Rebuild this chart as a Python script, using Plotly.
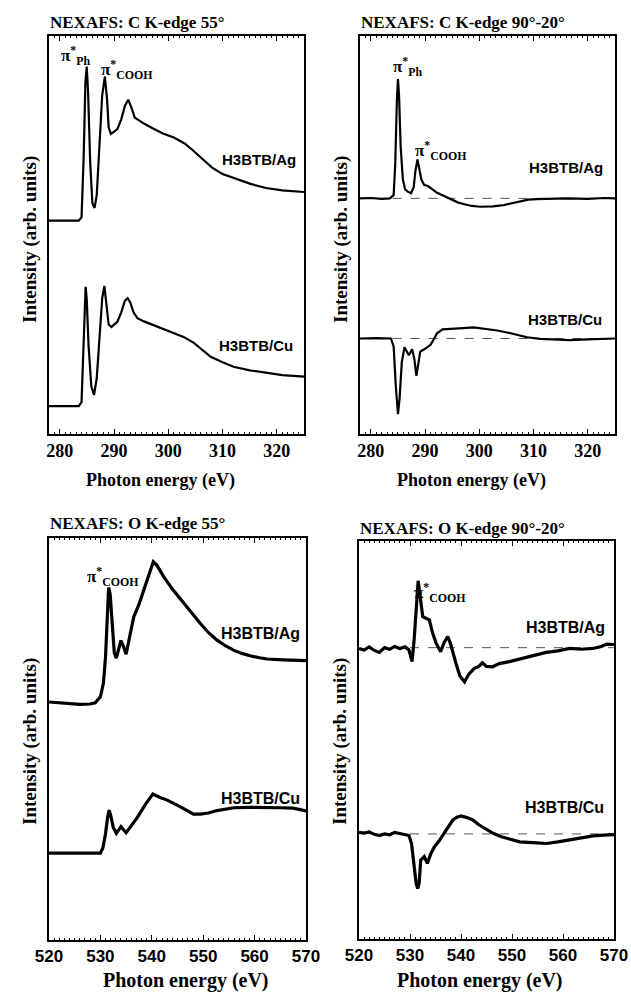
import plotly.graph_objects as go

W, H = 631, 992

# ---------------- data (arbitrary units, 0-100 per panel) ----------------
# C K-edge 55 deg
c55_ag_x = [278, 283.5, 284.0, 284.4, 284.7, 284.95, 285.2, 285.6, 286.0, 286.4, 286.8, 287.3, 287.8, 288.3,
            288.7, 289.0, 289.4, 290.0, 290.6, 291.3, 292.0, 292.6, 293.2, 293.8, 294.5, 295.5, 297, 299, 301,
            303, 304.5, 306, 308, 310, 312, 315, 318, 321, 325]
c55_ag_y = [53.6, 53.6, 54.5, 70, 88, 92.3, 86, 68, 58, 56.8, 60, 72, 85, 89.8,
            84, 77, 75.4, 76, 76.6, 79, 82.5, 84, 82, 79.5, 78.8, 78, 76.9, 75.5, 74.5,
            73, 71.3, 69.5, 67, 65.3, 64.3, 62.9, 61.8, 61.2, 60.8]
c55_cu_x = [278, 283.5, 284.0, 284.3, 284.6, 284.75, 284.95, 285.3, 285.8, 286.3, 286.8, 287.3, 287.8, 288.2,
            288.6, 289.0, 289.5, 290.1, 290.6, 291.3, 292.0, 292.5, 293.0, 293.6, 294.3, 295.5, 297.9, 300,
            302.8, 304.7, 306.3, 307.8, 310, 312, 315, 318.2, 321, 325]
c55_cu_y = [7, 7, 8, 20, 34, 37, 34, 22, 12, 9.8, 14, 25, 34, 37.2,
            32, 27.5, 26.9, 27.5, 28.2, 30.5, 33.5, 34.1, 33, 30.5, 29.1, 28.3, 27, 26,
            24.4, 22.9, 21, 19.4, 18, 16.9, 16, 15.3, 14.8, 14.4]

# C K-edge 90-20 deg (difference)
c90_ag_x = [278, 280, 282, 283.5, 284.2, 284.5, 284.8, 285.0, 285.2, 285.5, 285.9, 286.3, 286.8, 287.4,
            287.9, 288.2, 288.6, 288.9, 289.3, 289.8, 290.5, 291.3, 292.2, 293.5, 294.7, 296, 297.1, 298.6,
            300.2, 302.5, 304.5, 306, 307.5, 309, 310.6, 313, 316, 320, 323, 325]
c90_ag_y = [59.2, 59.3, 59.1, 59.2, 60, 68, 84, 89.2, 85, 72, 64, 61.5, 60.9, 60.5,
            62, 66, 69, 67, 64, 62.6, 62.3, 61.5, 60.6, 59.8, 59.0, 58.2, 57.8, 57.3,
            57.1, 57.2, 57.5, 58.0, 58.5, 58.9, 59.0, 59.1, 59.2, 59.1, 59.3, 59.2]
c90_cu_x = [278, 281, 283.7, 284.2, 284.6, 285.0, 285.3, 285.7, 286.2, 287.0, 287.6, 288.0, 288.4, 288.8,
            289.1, 290.0, 291.0, 291.6, 292.2, 293.2, 295.3, 297, 298.9, 301.4, 303.3, 305.1, 307, 308.8,
            311.2, 314, 316.7, 320, 325]
c90_cu_y = [24.0, 24.1, 24.0, 22, 12, 5.0, 9, 18, 21.8, 19.8, 21.3, 19, 14.6, 18,
            20.7, 21.4, 22.4, 23.8, 25.3, 26.3, 26.4, 26.6, 26.8, 26.4, 26.0, 25.5, 24.9, 24.3,
            23.9, 23.7, 23.6, 23.8, 24.0]
c90_base_x = [284, 325]
c90_ag_base = [59.2, 59.2]
c90_cu_base = [24.0, 24.0]

# O K-edge 55 deg
o55_ag_x = [520, 522, 524, 526, 528, 529.0, 530.0, 530.6, 531.0, 531.3, 531.6, 531.9, 532.3, 532.7, 533.1,
            533.6, 534.0, 534.5, 535.0, 535.7, 536.5, 537.5, 538.4, 539.4, 540.3, 541.0, 542.3, 544, 546.2,
            548, 549.4, 551, 552.7, 554.3, 555.9, 557.5, 559.1, 561, 562.4, 565.6, 570]
o55_ag_y = [59.2, 59.0, 58.7, 58.6, 58.7, 59.0, 60.5, 64, 70.5, 80, 87.7, 86, 78, 71.5, 70.1,
            73, 74.5, 73, 71.1, 75.5, 80.4, 83.5, 87.1, 91, 94.1, 93.2, 90.4, 87.3, 83.8,
            80.8, 78.8, 76.5, 74.6, 73.2, 72.1, 71.3, 70.7, 70.2, 69.9, 69.7, 69.5]
o55_cu_x = [520, 525, 530, 530.5, 531.0, 531.4, 531.7, 532.0, 532.5, 533.1, 534.0, 535.0, 536, 537.1,
            538.7, 540.2, 541.5, 543, 545.5, 547, 548.1, 549.4, 551, 552.7, 555.9, 559, 562.4, 565,
            567.5, 569, 570]
o55_cu_y = [21.6, 21.7, 21.6, 23, 26.5, 30.5, 32.3, 31, 28, 26.5, 28.2, 26.7, 28.5, 30.3,
            33.6, 36.3, 35.5, 34.8, 33.2, 32, 31.3, 31.3, 31.6, 32.2, 32.9, 33.0, 33.0, 32.9,
            32.8, 32.4, 32.1]

# O K-edge 90-20 deg (difference)
o90_ag_x = [520, 521, 522, 523, 524, 525, 526, 527, 528, 529, 529.8, 530.4, 530.8, 531.2, 531.6, 531.9,
            532.1, 532.5, 533.1, 533.8, 534.4, 535.1, 536.0, 536.7, 537.4, 538.0, 539.0, 539.8, 540.7,
            541.5, 542.6, 543.5, 544.2, 545, 546.2, 547.5, 549.5, 551, 552.8, 554.5, 556.7, 559, 561.3,
            563.5, 565.9, 567.5, 568.6, 570]
o90_ag_y = [73.0, 72.6, 73.4, 72.5, 72.0, 73.2, 72.8, 73.5, 73.0, 73.4, 72.6, 69.7, 75, 83.5, 90, 87,
            85.2, 81, 80.6, 80.2, 77, 74.4, 72.2, 74.5, 76, 74, 69.3, 66, 64.6,
            66.5, 68, 68.5, 69.4, 68.5, 68.4, 69.2, 69.7, 70.2, 70.9, 71.3, 72, 72.4, 73,
            72.8, 73, 73.5, 74.1, 74.0]
o90_cu_x = [520, 521, 522, 523, 524, 525, 526, 527, 528, 529, 529.8, 530.3, 530.8, 531.2, 531.5, 531.8,
            532.1, 532.8, 533.4, 534.1, 534.8, 535.8, 536.7, 537.6, 538.4, 539.2, 540.0, 541.2, 542.3,
            543.5, 544.9, 546.4, 547.9, 549.7, 551.5, 554, 556.8, 559, 561.3, 563.5, 565.9, 568, 570]
o90_cu_y = [26.8, 26.6, 26.9, 26.3, 26.0, 26.4, 26.2, 26.8, 26.5, 26.3, 26.0, 24, 19.0, 14, 12.7, 14,
            19.8, 20.7, 19.0, 21.5, 23.2, 24.8, 26.6, 28.5, 29.9, 30.6, 30.9, 30.5, 29.9,
            28.7, 27.6, 26.5, 25.7, 25.0, 24.4, 24.2, 24.0, 24.4, 24.9, 25.3, 25.9, 26.1, 26.2]
o90_base_x = [530, 570]
o90_ag_base = [73.2, 73.2]
o90_cu_base = [26.4, 26.4]

titles = ["NEXAFS: C K-edge 55°", "NEXAFS: C K-edge 90°-20°",
          "NEXAFS: O K-edge 55°", "NEXAFS: O K-edge 90°-20°"]
c_ticks = [280, 290, 300, 310, 320]
o_ticks = [520, 530, 540, 550, 560, 570]

SERIF = "Liberation Serif, DejaVu Serif, serif"
SANS = "Liberation Sans, Arial, sans-serif"


def px(x):
    return x / W


def py(y):
    return 1 - y / H


fig = go.Figure()


def line(x, y, ax, w):
    fig.add_trace(go.Scatter(x=x, y=y, mode="lines", xaxis="x" + ax, yaxis="y" + ax,
                             line=dict(color="black", width=w), showlegend=False, hoverinfo="skip"))


def dash(x, y, ax):
    fig.add_trace(go.Scatter(x=x, y=y, mode="lines", xaxis="x" + ax, yaxis="y" + ax,
                             line=dict(color="#555555", width=1, dash="dash"), showlegend=False,
                             hoverinfo="skip"))


dash(c90_base_x, c90_ag_base, "2")
dash(c90_base_x, c90_cu_base, "2")
dash(o90_base_x, o90_ag_base, "4")
dash(o90_base_x, o90_cu_base, "4")
line(c55_ag_x, c55_ag_y, "", 2.2)
line(c55_cu_x, c55_cu_y, "", 2.2)
line(c90_ag_x, c90_ag_y, "2", 2.2)
line(c90_cu_x, c90_cu_y, "2", 2.2)
line(o55_ag_x, o55_ag_y, "3", 3.2)
line(o55_cu_x, o55_cu_y, "3", 3.2)
line(o90_ag_x, o90_ag_y, "4", 3.2)
line(o90_cu_x, o90_cu_y, "4", 3.2)

domains = {
    "": ([49, 304], [36, 434]),
    "2": ([360, 615], [36, 434]),
    "3": ([49, 306], [538, 940]),
    "4": ([359, 614], [541, 939]),
}

lay = dict(template="none", width=W, height=H, autosize=False,
           margin=dict(l=0, r=0, t=0, b=0, pad=0),
           paper_bgcolor="white", plot_bgcolor="white")

for key, (dx, dy) in domains.items():
    is_c = key in ("", "2")
    rng = [278, 325] if is_c else [520, 570]
    tv = c_ticks if is_c else o_ticks
    tfont = dict(family=SERIF if is_c else SANS, size=18 if is_c else 17, color="black")
    lay["xaxis" + key] = dict(
        domain=[px(dx[0]), px(dx[1])], range=rng, anchor="y" + key, automargin=False,
        showline=True, linecolor="black", linewidth=1.5, mirror="ticks",
        ticks="inside", ticklen=5, tickwidth=1.2, tickcolor="black",
        tickvals=tv, ticktext=["<b>%d</b>" % v for v in tv], tickfont=tfont,
        showgrid=False, zeroline=False, fixedrange=True,
        minor=dict(dtick=1, ticks="inside", ticklen=2.5, tickcolor="black", tickwidth=1, showgrid=False),
    )
    lay["yaxis" + key] = dict(
        domain=[py(dy[1]), py(dy[0])], range=[0, 100], anchor="x" + key, automargin=False,
        showline=True, linecolor="black", linewidth=1.5, mirror=True,
        ticks="", showticklabels=False, showgrid=False, zeroline=False, fixedrange=True,
    )

fig.update_layout(**lay)

ann = []


def text(t, x, y, font, size, xanchor="center", yanchor="middle", angle=0, bold=True):
    ann.append(dict(text=("<b>%s</b>" % t) if bold else t, x=px(x), y=py(y), xref="paper", yref="paper",
                    showarrow=False, xanchor=xanchor, yanchor=yanchor, textangle=angle,
                    font=dict(family=font, size=size, color="black")))


# panel titles
text(titles[0], 48, 22, SERIF, 17, xanchor="left")
text(titles[1], 359, 22, SERIF, 17, xanchor="left")
text(titles[2], 48, 523, SERIF, 17, xanchor="left")
text(titles[3], 358, 528, SERIF, 17, xanchor="left")

# axis titles
text("Photon energy (eV)", 160, 480, SERIF, 18)
text("Photon energy (eV)", 471, 480, SERIF, 18)
text("Photon energy (eV)", 186, 980, SERIF, 20)
text("Photon energy (eV)", 480, 980, SERIF, 20)
text("Intensity (arb. units)", 30, 240, SERIF, 19, angle=-90)
text("Intensity (arb. units)", 341, 240, SERIF, 19, angle=-90)
text("Intensity (arb. units)", 30, 742, SERIF, 19, angle=-90)
text("Intensity (arb. units)", 340, 742, SERIF, 19, angle=-90)

# sample labels
text("H3BTB/Ag", 259, 160, SANS, 15)
text("H3BTB/Cu", 256, 345, SANS, 15)
text("H3BTB/Ag", 566, 167, SANS, 15)
text("H3BTB/Cu", 565, 320, SANS, 15)
text("H3BTB/Ag", 260, 633, SANS, 16)
text("H3BTB/Cu", 260, 798, SANS, 16)
text("H3BTB/Ag", 565, 627, SANS, 16)
text("H3BTB/Cu", 564, 807, SANS, 16)

# peak labels
text("π<sup>*</sup><sub>Ph</sub>", 59, 56, SERIF, 17, xanchor="left")
text("π<sup>*</sup><sub>COOH</sub>", 99, 69, SERIF, 17, xanchor="left")
text("π<sup>*</sup><sub>Ph</sub>", 391, 67, SERIF, 17, xanchor="left")
text("π<sup>*</sup><sub>COOH</sub>", 413, 150, SERIF, 17, xanchor="left")
text("π<sup>*</sup><sub>COOH</sub>", 85, 576, SERIF, 17, xanchor="left")
text("π<sup>*</sup><sub>COOH</sub>", 412, 592, SERIF, 17, xanchor="left")

fig.update_layout(annotations=ann)
fig.write_html("out.html", config={"displayModeBar": False},
               post_script="document.body.style.margin='0';document.body.style.overflow='hidden';")
